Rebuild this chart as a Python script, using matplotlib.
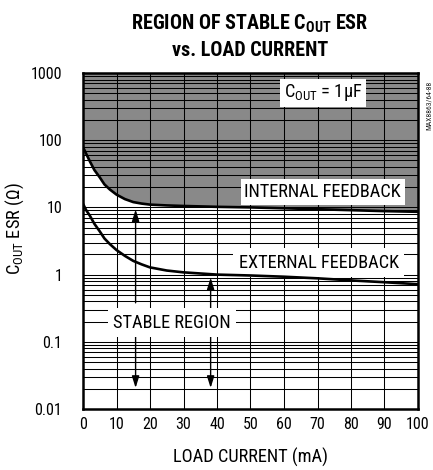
import matplotlib
matplotlib.use('Agg')
import matplotlib.pyplot as plt
from matplotlib import font_manager
import numpy as np

# Données
load_current = [0, 1, 2, 3.4, 5, 6.4, 8, 10, 12.5, 15, 17.5, 20, 25, 30,
                40, 50, 60, 70, 80, 90, 100]
esr_internal = [79, 62, 49, 36, 28, 22, 18.5, 15.5, 13.3, 12, 11.4, 11.0,
                10.7, 10.5, 10.2, 10.0, 9.7, 9.4, 9.1, 8.8, 8.6]
esr_external = [11.3, 9.0, 7.6, 5.7, 4.4, 3.45, 2.85, 2.32, 1.9, 1.6, 1.42,
                1.28, 1.15, 1.08, 1.0, 0.97, 0.93, 0.88, 0.82, 0.77, 0.72]
x_ticks = [0, 10, 20, 30, 40, 50, 60, 70, 80, 90, 100]
y_ticks = [0.01, 0.1, 1, 10, 100, 1000]
y_tick_labels = ['0.01', '0.1', '1', '10', '100', '1000']

# Police étroite si disponible, sinon Liberation Sans un peu plus petite
available = {f.name for f in font_manager.fontManager.ttflist}
FONT = 'Liberation Sans'
scale = 0.87
for name in ['Liberation Sans Narrow', 'Arial Narrow', 'Roboto Condensed',
             'Open Sans Condensed', 'DejaVu Sans Condensed']:
    if name in available:
        FONT = name
        scale = 1.0
        break

plt.rcParams['font.family'] = [FONT, 'DejaVu Sans']
plt.rcParams['mathtext.fontset'] = 'custom'
plt.rcParams['mathtext.rm'] = FONT
plt.rcParams['mathtext.bf'] = FONT + ':bold'

fs_text = 13.2 * scale
fs_tick = 11.5 * scale
fs_title = 14.5 * scale

fig = plt.figure(figsize=(4.33, 4.70), dpi=100)
ax = fig.add_axes([83 / 433, 61 / 470, 335 / 433, 336 / 470])

# Zone grise au-dessus de la courbe interne
ax.fill_between(load_current, esr_internal, 1000, color='#898989', lw=0, zorder=1)

ax.set_yscale('log')
ax.set_xlim(0, 100)
ax.set_ylim(0.01, 1000)
ax.set_xticks(x_ticks)
ax.set_xticklabels([str(t) for t in x_ticks])
ax.set_yticks(y_ticks)
ax.set_yticklabels(y_tick_labels)
ax.yaxis.set_minor_locator(matplotlib.ticker.LogLocator(base=10, subs=np.arange(2, 10)))
ax.yaxis.set_minor_formatter(matplotlib.ticker.NullFormatter())
ax.tick_params(which='both', length=0)
ax.tick_params(axis='y', pad=15, labelsize=fs_tick)
ax.tick_params(axis='x', pad=6, labelsize=fs_tick)
ax.grid(True, which='both', axis='y', color='black', lw=0.75, zorder=2)
ax.grid(True, which='major', axis='x', color='black', lw=0.75, zorder=2)
ax.set_axisbelow(False)
for sp in ax.spines.values():
    sp.set_linewidth(1.8)
    sp.set_zorder(7)

ax.plot(load_current, esr_internal, color='black', lw=1.9, zorder=6)
ax.plot(load_current, esr_external, color='black', lw=1.9, zorder=6)

# Flèches
arrow_style = dict(arrowstyle='-|>,head_length=0.7,head_width=0.22', color='black',
                   lw=1.0, mutation_scale=10, shrinkA=0, shrinkB=0)
ax.annotate('', xy=(15.7, 9.3), xytext=(15.7, 0.38), arrowprops=arrow_style, zorder=5)
ax.annotate('', xy=(38.1, 0.9), xytext=(38.1, 0.30), arrowprops=arrow_style, zorder=5)
ax.annotate('', xy=(15.7, 0.0206), xytext=(15.7, 0.127), arrowprops=arrow_style, zorder=5)
ax.annotate('', xy=(38.1, 0.0206), xytext=(38.1, 0.127), arrowprops=arrow_style, zorder=5)

box = dict(facecolor='white', edgecolor='none', boxstyle='square,pad=0.2')
ax.text(71.5, 17, 'INTERNAL FEEDBACK', fontsize=fs_text, ha='center', va='center',
        bbox=box, zorder=5)
ax.text(70.4, 1.49, 'EXTERNAL FEEDBACK', fontsize=fs_text, ha='center', va='center',
        bbox=dict(facecolor='white', edgecolor='none', boxstyle='square,pad=0.3'),
        zorder=5)
ax.text(26.6, 0.193, 'STABLE REGION', fontsize=fs_text, ha='center', va='center',
        bbox=dict(facecolor='white', edgecolor='none', boxstyle='square,pad=0.3'),
        zorder=5)
ax.text(71.6, 505, r'C$_{\rm OUT}$ = 1µF', fontsize=fs_text, ha='center', va='center',
        bbox=box, zorder=5)

# Titres et légendes d'axes
fig.text(250 / 433, 1 - 24 / 470, r'REGION OF STABLE C$_{\mathbf{OUT}}$ ESR',
         fontsize=fs_title, fontweight='bold', ha='center', va='center')
fig.text(250 / 433, 1 - 50 / 470, 'vs. LOAD CURRENT',
         fontsize=fs_title, fontweight='bold', ha='center', va='center')
fig.text(250.5 / 433, 1 - 457 / 470, 'LOAD CURRENT (mA)', fontsize=fs_text,
         ha='center', va='center')
fig.text(15 / 433, 1 - 229 / 470, r'C$_{\rm OUT}$ ESR (Ω)', fontsize=fs_text,
         rotation=90, ha='center', va='center')
fig.text(429 / 433, 1 - 105 / 470, 'MAX8863/64-88', fontsize=5.5 * scale,
         rotation=90, ha='center', va='center', color='#222222')

fig.savefig('out.png', dpi=100)
